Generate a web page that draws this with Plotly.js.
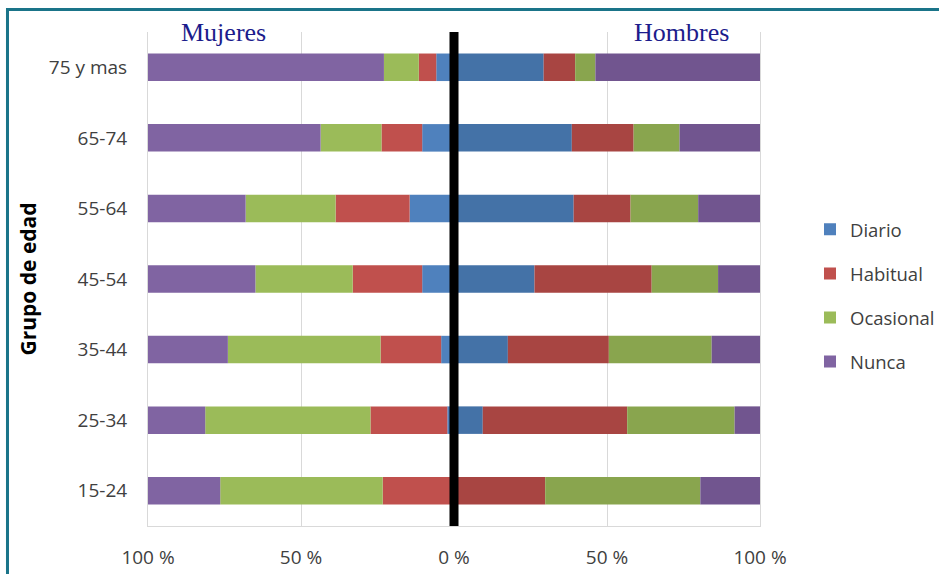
<!DOCTYPE html>
<html>
<head>
<meta charset="utf-8">
<script src="https://cdn.plot.ly/plotly-3.0.1.min.js"></script>
<style>
html,body{margin:0;padding:0;background:#fff;}
#chart{width:939px;height:574px;}
</style>
</head>
<body>
<div id="chart"></div>
<script>
// Age groups, bottom to top
const ageGroups = ['15-24','25-34','35-44','45-54','55-64','65-74','75 y mas'];
const seriesNames = ['Diario','Habitual','Ocasional','Nunca'];

// Mujeres (%), drawn to the left
const mujeresDiario    = [0.0, 2.2, 4.2, 10.4, 14.5, 10.4, 5.8];
const mujeresHabitual  = [23.3, 25.1, 19.8, 22.7, 24.2, 13.3, 5.7];
const mujeresOcasional = [53.1, 54.0, 49.9, 31.8, 29.4, 19.9, 11.4];
const mujeresNunca     = [23.6, 18.7, 26.1, 35.1, 31.9, 56.4, 77.1];

// Hombres (%), drawn to the right
const hombresDiario    = [0.0, 9.4, 17.6, 26.3, 39.1, 38.5, 29.3];
const hombresHabitual  = [29.8, 47.2, 33.0, 38.3, 18.6, 20.2, 10.3];
const hombresOcasional = [50.7, 35.1, 33.6, 21.7, 22.1, 15.0, 6.6];
const hombresNunca     = [19.5, 8.3, 15.8, 13.7, 20.2, 26.3, 53.8];

const tickVals  = [-100, -50, 0, 50, 100];
const tickTexts = ['100 %', '50 %', '0 %', '50 %', '100 %'];

const mujeresColors = ['#4F81BD', '#C0504D', '#9BBB59', '#8064A2'];
const hombresColors = ['#4472A7', '#A84542', '#89A54E', '#71558F'];

const mujeres = [mujeresDiario, mujeresHabitual, mujeresOcasional, mujeresNunca];
const hombres = [hombresDiario, hombresHabitual, hombresOcasional, hombresNunca];

const traces = [];
seriesNames.forEach((name, i) => {
  traces.push({
    type: 'bar', orientation: 'h', name: name,
    y: ageGroups, x: mujeres[i].map(v => -v),
    marker: {color: mujeresColors[i]},
    legendgroup: name, showlegend: true, hoverinfo: 'skip'
  });
});
seriesNames.forEach((name, i) => {
  traces.push({
    type: 'bar', orientation: 'h', name: name,
    y: ageGroups, x: hombres[i],
    marker: {color: hombresColors[i]},
    legendgroup: name, showlegend: false, hoverinfo: 'skip'
  });
});

const layout = {
  width: 939, height: 574,
  margin: {l: 148, r: 179, t: 32, b: 48, pad: 0, autoexpand: false},
  paper_bgcolor: '#ffffff', plot_bgcolor: '#ffffff',
  font: {family: '"Open Sans", sans-serif', color: '#404040', size: 19},
  barmode: 'relative',
  bargap: 0.61,
  showlegend: true,
  legend: {
    x: 1.0817, xanchor: 'left', y: 0.638, yanchor: 'top',
    traceorder: 'grouped', tracegroupgap: 17,
    font: {size: 18.5, color: '#404040'},
    bgcolor: 'rgba(0,0,0,0)'
  },
  xaxis: {
    range: [-100, 100], tickvals: tickVals, ticktext: tickTexts,
    showgrid: true, gridcolor: '#d9d9d9', gridwidth: 1,
    zeroline: false, showline: true, linecolor: '#d9d9d9', linewidth: 1,
    ticks: '', ticklabelstandoff: 14,
    tickfont: {size: 19, color: '#404040'}, fixedrange: true
  },
  yaxis: {
    type: 'category', categoryorder: 'array', categoryarray: ageGroups,
    showgrid: false, zeroline: false,
    showline: true, mirror: true, linecolor: '#d9d9d9', linewidth: 1,
    ticks: '', ticklabelstandoff: 16,
    tickfont: {size: 19, color: '#404040'},
    title: {text: 'Grupo de edad', font: {size: 21, color: '#000000', family: '"Open Sans", sans-serif', weight: 'bold'}, standoff: 6},
    fixedrange: true
  },
  shapes: [
    {type: 'line', xref: 'x', yref: 'paper', x0: 0, x1: 0, y0: 0, y1: 1,
     line: {color: '#000000', width: 9}, layer: 'above'},
    {type: 'rect', xref: 'paper', yref: 'paper', x0: -0.2296, x1: 1.6, y0: -0.6, y1: 1.0455,
     line: {color: '#1A7489', width: 3}, fillcolor: 'rgba(0,0,0,0)', layer: 'below'}
  ],
  annotations: [
    {text: 'Mujeres', xref: 'paper', yref: 'paper', x: 0.124, y: 1.0, xanchor: 'center', yanchor: 'middle',
     showarrow: false, font: {family: '"Liberation Serif", serif', size: 26, color: '#1C1C8C'}},
    {text: 'Hombres', xref: 'paper', yref: 'paper', x: 0.871, y: 1.0, xanchor: 'center', yanchor: 'middle',
     showarrow: false, font: {family: '"Liberation Serif", serif', size: 26, color: '#1C1C8C'}}
  ]
};

Plotly.newPlot('chart', traces, layout, {displayModeBar: false, staticPlot: true});
</script>
</body>
</html>
